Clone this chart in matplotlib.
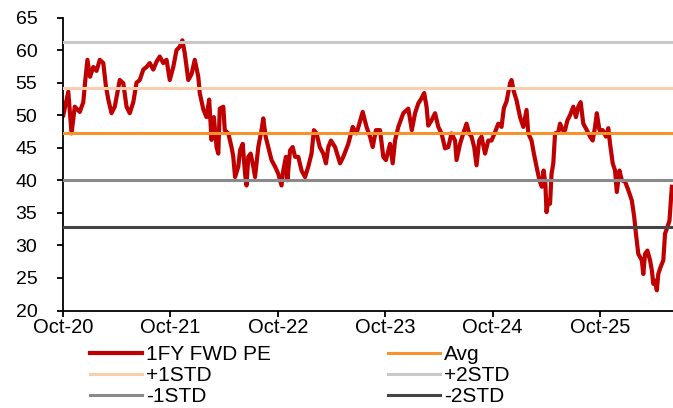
import matplotlib
matplotlib.use("Agg")
from matplotlib import pyplot as plt
import matplotlib.dates as mdates
import pandas as pd

plt.rcParams['font.family'] = ['Liberation Sans', 'DejaVu Sans']

# 1FY forward PE readings
dates = ["2020-10-02", "2020-10-19", "2020-10-30", "2020-11-10", "2020-11-27", "2020-12-09",
         "2020-12-15", "2020-12-23", "2021-01-01", "2021-01-12", "2021-01-23", "2021-02-03",
         "2021-02-15", "2021-02-24", "2021-03-04", "2021-03-15", "2021-03-26", "2021-04-12",
         "2021-04-24", "2021-05-05", "2021-05-16", "2021-05-28", "2021-06-08", "2021-06-19",
         "2021-07-01", "2021-07-12", "2021-07-23", "2021-08-04", "2021-08-15", "2021-08-26",
         "2021-09-07", "2021-09-18", "2021-09-29", "2021-10-11", "2021-10-22", "2021-11-02",
         "2021-11-11", "2021-11-19", "2021-12-01", "2021-12-12", "2021-12-23", "2022-01-04",
         "2022-01-09", "2022-01-21", "2022-02-01", "2022-02-10", "2022-02-18", "2022-02-26",
         "2022-03-07", "2022-03-13", "2022-03-18", "2022-03-30", "2022-04-04", "2022-04-16",
         "2022-04-27", "2022-05-03", "2022-05-09", "2022-05-20", "2022-05-26", "2022-06-04",
         "2022-06-12", "2022-06-17", "2022-06-23", "2022-07-01", "2022-07-10", "2022-07-16",
         "2022-07-27", "2022-08-07", "2022-08-13", "2022-08-21", "2022-08-30", "2022-09-10",
         "2022-09-22", "2022-10-03", "2022-10-14", "2022-10-20", "2022-10-29", "2022-11-03",
         "2022-11-12", "2022-11-21", "2022-11-29", "2022-12-10", "2022-12-21", "2023-01-02",
         "2023-01-13", "2023-01-24", "2023-02-01", "2023-02-10", "2023-02-21", "2023-03-05",
         "2023-03-14", "2023-03-22", "2023-03-31", "2023-04-14", "2023-05-01", "2023-05-12",
         "2023-05-29", "2023-06-13", "2023-06-26", "2023-07-17", "2023-07-30", "2023-08-11",
         "2023-08-20", "2023-08-31", "2023-09-14", "2023-09-25", "2023-10-04", "2023-10-18",
         "2023-10-27", "2023-11-04", "2023-11-15", "2023-12-02", "2023-12-19", "2023-12-31",
         "2024-01-11", "2024-01-22", "2024-02-02", "2024-02-11", "2024-02-19", "2024-02-25",
         "2024-03-07", "2024-03-19", "2024-03-30", "2024-04-10", "2024-04-22", "2024-05-03",
         "2024-05-14", "2024-05-26", "2024-05-31", "2024-06-12", "2024-06-23", "2024-07-04",
         "2024-07-13", "2024-07-21", "2024-07-30", "2024-08-07", "2024-08-16", "2024-08-24",
         "2024-09-05", "2024-09-16", "2024-09-27", "2024-10-09", "2024-10-20", "2024-10-31",
         "2024-11-08", "2024-11-17", "2024-11-29", "2024-12-04", "2024-12-12", "2024-12-21",
         "2025-01-02", "2025-01-13", "2025-01-24", "2025-01-30", "2025-02-10", "2025-02-18",
         "2025-02-27", "2025-03-09", "2025-03-17", "2025-03-23", "2025-03-29", "2025-04-02",
         "2025-04-08", "2025-04-14", "2025-04-19", "2025-04-25", "2025-05-01", "2025-05-12",
         "2025-05-18", "2025-05-27", "2025-06-04", "2025-06-12", "2025-06-21", "2025-07-02",
         "2025-07-11", "2025-07-19", "2025-07-27", "2025-08-05", "2025-08-17", "2025-08-28",
         "2025-09-06", "2025-09-14", "2025-09-20", "2025-09-29", "2025-10-10", "2025-10-21",
         "2025-10-29", "2025-11-04", "2025-11-13", "2025-11-21", "2025-11-27", "2025-12-06",
         "2025-12-14", "2025-12-25", "2026-01-05", "2026-01-17", "2026-01-25", "2026-01-31",
         "2026-02-08", "2026-02-20", "2026-02-25", "2026-03-03", "2026-03-11", "2026-03-20",
         "2026-03-26", "2026-03-31", "2026-04-06", "2026-04-12", "2026-04-17", "2026-04-25",
         "2026-05-04", "2026-05-10", "2026-05-18", "2026-05-25", "2026-06-02"]
pe = [50.0, 53.6, 47.2, 51.3, 50.5, 52.0,
      55.0, 58.5, 55.9, 57.4, 56.8, 58.5,
      58.0, 54.4, 52.4, 50.3, 51.3, 55.4,
      54.9, 51.3, 50.3, 52.0, 55.0, 55.4,
      57.0, 57.4, 58.0, 57.0, 58.2, 59.0,
      58.0, 58.5, 55.4, 57.4, 60.0, 60.5,
      61.5, 59.5, 55.4, 56.3, 58.5, 55.9,
      53.4, 50.9, 49.7, 52.4, 46.2, 49.7,
      45.1, 44.1, 51.0, 51.3, 47.7, 47.2,
      45.1, 43.6, 40.5, 42.1, 44.6, 45.6,
      41.0, 39.2, 43.6, 44.1, 42.1, 40.5,
      45.1, 47.7, 49.5, 46.7, 45.1, 43.1,
      42.1, 41.0, 39.2, 41.5, 43.6, 40.0,
      44.6, 45.1, 43.6, 43.6, 41.5, 40.5,
      42.1, 44.1, 47.7, 47.2, 45.1, 44.1,
      42.6, 45.1, 46.1, 45.1, 42.6, 43.6,
      45.6, 48.2, 47.2, 50.5, 48.2, 46.7,
      45.1, 47.7, 47.7, 43.6, 43.1, 45.6,
      42.6, 46.1, 48.2, 50.3, 51.0, 47.7,
      50.3, 51.8, 52.6, 53.4, 51.3, 48.4,
      49.2, 50.3, 48.2, 47.2, 44.9, 45.1,
      47.2, 46.1, 43.1, 45.6, 47.2, 48.7,
      47.2, 46.7, 45.1, 42.3, 46.1, 46.7,
      44.1, 46.1, 46.1, 47.4, 48.7, 48.2,
      51.1, 52.1, 54.9, 55.4, 53.6, 52.3,
      49.7, 48.2, 50.8, 47.2, 46.1, 44.1,
      42.1, 40.0, 39.0, 41.5, 39.5, 35.1,
      36.9, 36.4, 41.0, 42.6, 47.2, 47.4,
      48.7, 47.7, 47.7, 49.2, 50.0, 51.3,
      49.7, 51.3, 52.0, 48.7, 47.7, 46.7,
      46.1, 48.2, 50.3, 47.7, 47.7, 46.7,
      48.0, 45.6, 42.6, 41.5, 38.2, 41.5,
      40.0, 39.8, 38.5, 36.9, 34.4, 31.8,
      28.7, 27.7, 25.6, 28.7, 29.2, 27.7,
      26.2, 24.1, 24.6, 23.1, 25.6, 26.7,
      27.7, 31.8, 32.8, 33.8, 39.0]

# band levels
avg = 47.2
plus1 = 54.1
plus2 = 61.2
minus1 = 40.0
minus2 = 32.9

x = pd.to_datetime(dates)

fig = plt.figure(figsize=(6.73, 4.08), dpi=100)
ax = fig.add_axes([63 / 673, 1 - 310.5 / 408, 610 / 673, 293 / 408])

ax.plot(x, pe, color='#C00000', lw=3.0, label='1FY FWD PE', zorder=2)
ax.axhline(avg, color='#F7922E', lw=2.2, label='Avg', zorder=3)
ax.axhline(plus1, color='#F9CDAE', lw=2.2, label='+1STD', zorder=3)
ax.axhline(plus2, color='#C8C8C8', lw=2.2, label='+2STD', zorder=3)
ax.axhline(minus1, color='#8A8A8A', lw=2.2, label='-1STD', zorder=3)
ax.axhline(minus2, color='#444444', lw=2.2, label='-2STD', zorder=3)

ax.set_ylim(20, 65)
ax.set_yticks(range(20, 66, 5))
ax.set_xlim(pd.Timestamp("2020-10-01"), pd.Timestamp("2026-06-06"))
ax.xaxis.set_major_locator(mdates.MonthLocator(bymonth=10, bymonthday=1))
ax.xaxis.set_major_formatter(mdates.DateFormatter('%b-%y'))

for s in ['top', 'right']:
    ax.spines[s].set_visible(False)
for s in ['left', 'bottom']:
    ax.spines[s].set_linewidth(1.3)
ax.tick_params(axis='y', direction='out', length=4.5, width=1.3, pad=14, labelsize=14)
ax.tick_params(axis='x', direction='out', length=4, width=1.3, pad=1.5, labelsize=14.5)

h, l = ax.get_legend_handles_labels()
order = [0, 2, 4, 1, 3, 5]
fig.legend([h[i] for i in order], [l[i] for i in order], ncol=2, frameon=False,
           loc='upper left', bbox_to_anchor=(90 / 673, 1 - 345 / 408),
           borderpad=0, borderaxespad=0, handlelength=2.5, handletextpad=0.2,
           labelspacing=0.1, columnspacing=5.6, fontsize=15)

fig.savefig('out.png', dpi=100)
